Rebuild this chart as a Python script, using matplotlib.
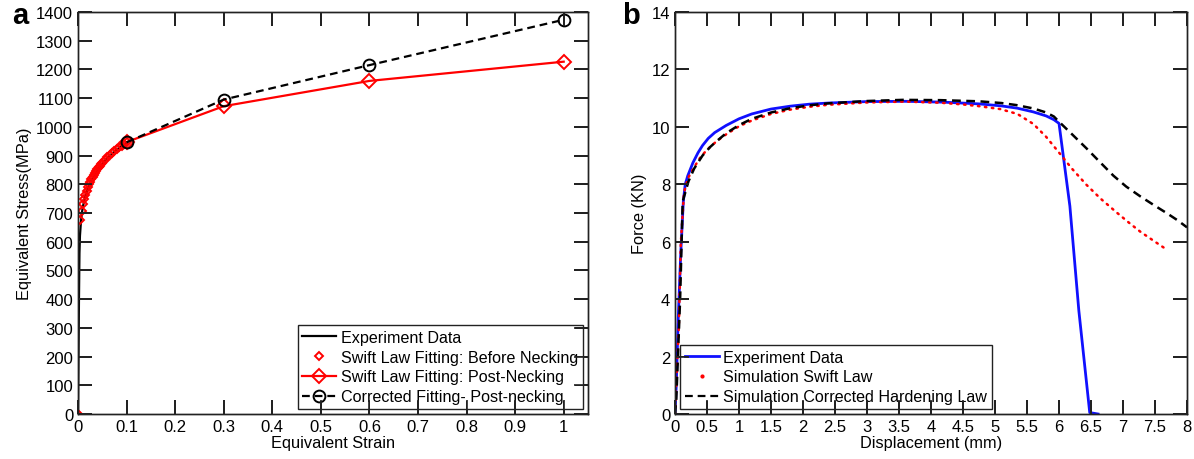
import matplotlib

matplotlib.use("Agg")
import matplotlib.pyplot as plt
from matplotlib.lines import Line2D

plt.rcParams.update({
    "font.family": ["Liberation Sans", "DejaVu Sans"],
    "font.size": 11.8,
    "axes.linewidth": 1.0,
    "legend.fontsize": 11.6,
    "xtick.direction": "in",
    "ytick.direction": "in",
    "xtick.top": True,
    "ytick.right": True,
    "xtick.major.size": 10,
    "ytick.major.size": 10,
    "xtick.major.width": 1.2,
    "ytick.major.width": 1.2,
    "xtick.labelsize": 12,
    "ytick.labelsize": 12,
})

# ---- panel a: hardening laws --------------------------------------------- #
EXP_STRAIN = [0, 0.001, 0.002, 0.003, 0.004, 0.006, 0.008, 0.01, 0.015, 0.02,
              0.03, 0.04, 0.05, 0.06, 0.07, 0.08, 0.09, 0.1]
EXP_STRESS = [0, 200, 400, 560, 620, 668, 700, 722, 758, 784,
              822, 850, 872, 891, 907, 921, 934, 945]

BEFORE_STRAIN = [0, 0.005, 0.0075, 0.01, 0.0125, 0.015, 0.0175, 0.02, 0.0225,
                 0.025, 0.0275, 0.03, 0.0325, 0.035, 0.0375, 0.04, 0.0425,
                 0.045, 0.0475, 0.05, 0.055, 0.06, 0.065, 0.07, 0.075, 0.08,
                 0.085, 0.09, 0.095, 0.1]
BEFORE_STRESS = [0, 675, 706, 730, 748, 764, 777, 789, 800,
                 809, 818, 826, 834, 841, 847, 854, 859,
                 865, 870, 875, 885, 894, 902, 909, 916, 923,
                 929, 935, 941, 947]

POST_STRAIN = [0.1, 0.3, 0.6, 1.0]
POST_STRESS = [947, 1072, 1160, 1227]

CORR_STRAIN = [0.1, 0.3, 0.6, 1.0]
CORR_STRESS = [946, 1095, 1215, 1373]

STRAIN_TICKS = [0, 0.1, 0.2, 0.3, 0.4, 0.5, 0.6, 0.7, 0.8, 0.9, 1.0]
STRAIN_LABELS = ["0", "0.1", "0.2", "0.3", "0.4", "0.5", "0.6", "0.7",
                 "0.8", "0.9", "1"]
STRESS_TICKS = list(range(0, 1401, 100))

# ---- panel b: force-displacement ----------------------------------------- #
EXP_DISP = [0, 0.02, 0.05, 0.09, 0.13, 0.16, 0.2, 0.28, 0.36, 0.43, 0.52,
            0.62, 0.8, 1.0, 1.2, 1.5, 1.8, 2.1, 2.4, 3.0, 3.6, 4.2, 4.75, 5.1,
            5.35, 5.6, 5.8, 5.92, 6.0, 6.17, 6.31, 6.48, 6.61]
EXP_FORCE = [0, 1.0, 3.3, 5.6, 7.4, 8.0, 8.3, 8.75, 9.1, 9.35, 9.6,
             9.8, 10.05, 10.28, 10.45, 10.62, 10.72, 10.79, 10.83, 10.88,
             10.89, 10.86, 10.8, 10.73, 10.65, 10.52, 10.38, 10.25, 10.12,
             7.24, 3.6, 0.05, 0]

SWIFT_DISP = [0, 0.03, 0.06, 0.09, 0.14, 0.2, 0.3, 0.4, 0.5, 0.65, 0.8, 1.0,
              1.2, 1.5, 1.8, 2.1, 2.4, 3.0, 3.6, 4.15, 4.5, 4.75, 5.08, 5.35,
              5.6, 5.8, 6.02, 6.2, 6.43, 6.65, 6.9, 7.1, 7.27, 7.5, 7.7]
SWIFT_FORCE = [0, 1.5, 3.0, 5.9, 7.7, 8.2, 8.6, 8.95, 9.2, 9.5, 9.74, 10.02,
               10.22, 10.45, 10.6, 10.7, 10.77, 10.85, 10.88, 10.84, 10.78,
               10.72, 10.62, 10.45, 10.1, 9.65, 9.05, 8.55, 7.98, 7.5, 7.02,
               6.65, 6.35, 6.0, 5.7]

CORR_DISP = [0, 0.02, 0.08, 0.12, 0.21, 0.3, 0.43, 0.55, 0.65, 0.8, 1.0, 1.2,
             1.5, 1.8, 2.1, 2.4, 3.0, 3.56, 4.15, 4.75, 5.1, 5.33, 5.6, 5.8,
             5.92, 6.0, 6.2, 6.43, 6.65, 6.85, 7.05, 7.27, 7.5, 7.68, 7.85, 8.0]
CORR_FORCE = [0, 0.5, 4.0, 7.4, 8.1, 8.55, 9.0, 9.3, 9.5, 9.78, 10.06, 10.28,
              10.5, 10.65, 10.75, 10.82, 10.9, 10.94, 10.93, 10.89, 10.83,
              10.76, 10.64, 10.5, 10.36, 10.18, 9.75, 9.25, 8.75, 8.3, 7.92,
              7.58, 7.25, 7.0, 6.75, 6.5]

DISP_TICKS = [i / 2 for i in range(17)]
DISP_LABELS = ["0", "0.5", "1", "1.5", "2", "2.5", "3", "3.5", "4",
               "4.5", "5", "5.5", "6", "6.5", "7", "7.5", "8"]
FORCE_TICKS = list(range(0, 15, 2))

DASHES = (0, (3.5, 2.2))
INK = "#222222"
FIG_W, FIG_H = 1194, 460
RECT_A = [78 / FIG_W, 45 / FIG_H, 510 / FIG_W, 402 / FIG_H]
RECT_B = [675 / FIG_W, 45 / FIG_H, 512 / FIG_W, 402 / FIG_H]
TICK_LEN_PX = 13.5
TICK_W_PX = 1.3


def frame_legend(leg):
    leg.get_frame().set_linewidth(1.0)
    leg.get_frame().set_edgecolor(INK)


def tick_overlay(rect, xlim, ylim, xticks, yticks):
    # transparent axes on top that carries the inward box ticks as filled bars
    over = fig.add_axes(rect, facecolor="none", zorder=10)
    over.set_xlim(xlim)
    over.set_ylim(ylim)
    over.set_xticks(xticks)
    over.set_yticks(yticks)
    over.tick_params(labelbottom=False, labelleft=False, color=INK)
    for spine in over.spines.values():
        spine.set_color(INK)
    w_px = rect[2] * FIG_W
    h_px = rect[3] * FIG_H
    x_unit = (xlim[1] - xlim[0]) / w_px       # data units per pixel
    y_unit = (ylim[1] - ylim[0]) / h_px
    over.bar(xticks, TICK_LEN_PX * y_unit, width=TICK_W_PX * x_unit,
             bottom=ylim[0], color=INK, linewidth=0)
    over.bar(xticks, TICK_LEN_PX * y_unit, width=TICK_W_PX * x_unit,
             bottom=ylim[1] - TICK_LEN_PX * y_unit, color=INK, linewidth=0)
    over.barh(yticks, TICK_LEN_PX * x_unit, height=TICK_W_PX * y_unit,
              left=xlim[0], color=INK, linewidth=0)
    over.barh(yticks, TICK_LEN_PX * x_unit, height=TICK_W_PX * y_unit,
              left=xlim[1] - TICK_LEN_PX * x_unit, color=INK, linewidth=0)
    over.set_xlim(xlim)
    over.set_ylim(ylim)
    return over


fig = plt.figure(figsize=(FIG_W / 100, FIG_H / 100), dpi=100)
ax_a = fig.add_axes(RECT_A)
ax_b = fig.add_axes(RECT_B)

# panel a
ax_a.plot(EXP_STRAIN, EXP_STRESS, color="black", lw=1.6, zorder=2,
          label="Experiment Data")
ax_a.plot(BEFORE_STRAIN, BEFORE_STRESS, ls="none", marker="D", ms=4.2,
          mfc="none", mec="red", mew=1.4, zorder=3,
          label="Swift Law Fitting: Before Necking")
ax_a.plot(POST_STRAIN, POST_STRESS, color="red", lw=1.6, marker="D", ms=7,
          mfc="none", mec="red", mew=1.4, zorder=3,
          label="Swift Law Fitting: Post-Necking")
ax_a.plot(CORR_STRAIN, CORR_STRESS, color="black", lw=1.6, ls=DASHES,
          marker="o", ms=8.5, mfc="none", mec="black", mew=1.4, zorder=4,
          label="Corrected Fitting- Post-necking")
ax_a.set_xlim(0, 1.05)
ax_a.set_ylim(0, 1400)
ax_a.set_xticks(STRAIN_TICKS)
ax_a.set_xticklabels(STRAIN_LABELS)
ax_a.set_yticks(STRESS_TICKS)
ax_a.set_xlabel("Equivalent Strain", labelpad=1)
ax_a.set_ylabel("Equivalent Stress(MPa)", labelpad=3)
leg_a = ax_a.legend(loc="lower right", fancybox=False, framealpha=1,
                    borderaxespad=0.3, handlelength=2.1, handletextpad=0.3,
                    labelspacing=0.3, borderpad=0.3)
frame_legend(leg_a)

# panel b
ax_b.plot(EXP_DISP, EXP_FORCE, color="#1010ff", lw=2.0, zorder=2)
ax_b.plot(SWIFT_DISP, SWIFT_FORCE, color="red", lw=1.8, ls=(0, (0.6, 2.2)),
          dash_capstyle="round", zorder=3)
ax_b.plot(CORR_DISP, CORR_FORCE, color="black", lw=1.8, ls=DASHES, zorder=4)
ax_b.set_xlim(0, 8)
ax_b.set_ylim(0, 14)
ax_b.set_xticks(DISP_TICKS)
ax_b.set_xticklabels(DISP_LABELS)
ax_b.set_yticks(FORCE_TICKS)
ax_b.set_xlabel("Displacement (mm)", labelpad=1)
ax_b.set_ylabel("Force (KN)", labelpad=3)
handles_b = [
    Line2D([], [], color="#1010ff", lw=2.0),
    Line2D([], [], ls="none", marker=".", ms=4, color="red"),
    Line2D([], [], color="black", lw=1.6, ls=DASHES),
]
leg_b = ax_b.legend(handles_b, ["Experiment Data", "Simulation Swift Law",
                                "Simulation Corrected Hardening Law"],
                    loc="lower left", fancybox=False, framealpha=1,
                    borderaxespad=0.3, handlelength=2.1, handletextpad=0.3,
                    labelspacing=0.3, borderpad=0.3)
frame_legend(leg_b)

for ax in (ax_a, ax_b):
    for spine in ax.spines.values():
        spine.set_color(INK)

tick_overlay(RECT_A, ax_a.get_xlim(), ax_a.get_ylim(), STRAIN_TICKS,
             STRESS_TICKS)
tick_overlay(RECT_B, ax_b.get_xlim(), ax_b.get_ylim(), DISP_TICKS,
             FORCE_TICKS)

fig.text(12 / FIG_W, 1 - 2 / FIG_H, "a", fontsize=21, fontweight="bold",
         va="top", ha="left")
fig.text(622 / FIG_W, 1 - 2 / FIG_H, "b", fontsize=21, fontweight="bold",
         va="top", ha="left")

fig.savefig("out.png", dpi=100)
